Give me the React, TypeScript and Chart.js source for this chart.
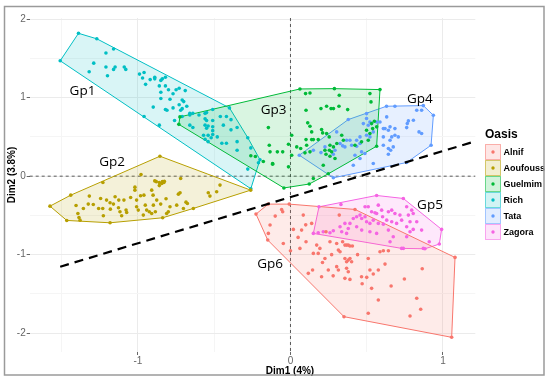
import React, { useEffect, useRef } from "react";
import { Chart, registerables } from "chart.js";
Chart.register(...registerables);

const groupNames = ["Alnif", "Aoufouss", "Guelmim", "Rich", "Tata", "Zagora"];
const groupColors = ["#F8766D", "#B79F00", "#00BA38", "#00BFC4", "#619CFF", "#F564E3"];
const groupLabels = ["Gp6", "Gp2", "Gp3", "Gp1", "Gp4", "Gp5"];
const groupLabelX = [-0.134, -1.17, -0.111, -1.364, 0.849, 0.915];
const groupLabelY = [-1.12, 0.178, 0.84, 1.081, 0.986, -0.363];

const alnifPoints = [
  [-0.226,-0.483],[-0.146,-0.356],[-0.008,-0.356],[0.423,-0.424],[1.079,-1.035],[1.057,-2.053],[0.351,-1.79],[-0.149,-0.814],
  [-0.058,-0.424],[-0.051,-0.454],[-0.134,-0.623],[-0.1,-0.509],[-0.145,-0.729],[-0.047,-0.857],[0.019,-0.678],[0.073,-0.687],[0.084,-0.496],[0.102,-0.835],[0.062,-0.92],[0.15,-0.984],[0.145,-1.196],[0.117,-1.238],[0.172,-0.878],[0.193,-0.92],[0.182,-0.984],[0.226,-1.048],[0.248,-1.196],[0.204,-1.281],[0.259,-0.835],[0.303,-0.857],[0.314,-0.942],[0.325,-0.963],[0.342,-0.835],[0.357,-0.878],[0.368,-0.878],[0.379,-0.878],[0.39,-0.89],[0.406,-0.89],[0.357,-1.048],[0.379,-1.069],[0.39,-1.048],[0.368,-1.09],[0.401,-1.09],[0.303,-1.153],[0.314,-1.196],[0.368,-1.174],[0.379,-1.217],[0.357,-1.302],[0.39,-1.315],[0.466,-1.281],[0.5,-1.289],[0.521,-1.196],[0.51,-1.048],[0.576,-1.196],[0.543,-1.247],[0.532,-1.429],[0.576,-1.578],[0.587,-0.963],[0.609,-0.95],[0.642,-0.95],[0.747,-1.31],[0.864,-1.179],[0.828,-1.556],[0.854,-1.696],[0.784,-1.781],[0.51,-1.747],[0.32,-0.496],[0.139,-0.602],[0.233,-0.708],[0.1,-0.62],[0.05,-0.78],[0.21,-1.1],[0.27,-1.0],[0.44,-1.0],[0.47,-1.37],[0.62,-1.12],[0.66,-1.4],[0.28,-1.27],[0.0,-0.95]
];
const aoufoussPoints = [
  [-1.577,-0.382],[-1.467,-0.564],[-1.183,-0.594],[-0.838,-0.53],[-0.637,-0.411],[-0.261,-0.178],[-0.856,0.254],[-1.23,-0.08],[-1.441,-0.242],
  [-1.319,-0.254],[-1.406,-0.373],[-1.358,-0.411],[-1.326,-0.356],[-1.293,-0.36],[-1.258,-0.411],[-1.394,-0.475],[-1.387,-0.526],[-1.38,-0.56],[-1.231,-0.411],[-1.227,-0.505],[-1.183,-0.339],[-1.161,-0.356],[-1.15,-0.263],[-1.181,-0.42],[-1.126,-0.305],[-1.128,-0.403],[-1.118,-0.454],[-1.107,-0.505],[-1.078,-0.432],[-1.074,-0.462],[-1.092,-0.305],[-1.048,-0.271],[-1.02,-0.178],[-1.009,-0.305],[-1.009,-0.39],[-0.998,-0.432],[-0.983,-0.25],[-0.961,-0.242],[-0.952,-0.369],[-0.943,-0.432],[-0.926,-0.454],[-0.91,-0.178],[-0.901,-0.242],[-0.899,-0.369],[-0.886,-0.454],[-0.877,-0.305],[-0.851,-0.356],[-0.844,-0.093],[-0.827,-0.064],[-0.816,-0.288],[-0.801,-0.454],[-0.79,-0.39],[-0.746,-0.369],[-0.735,-0.229],[-0.724,-0.212],[-0.702,-0.411],[-0.685,-0.331],[-0.676,-0.348],[-0.539,-0.212],[-0.528,-0.254],[-0.484,-0.199],[-0.462,-0.114],[-0.965,-0.496],[-0.91,-0.475],[-0.812,-0.475],[-1.206,-0.305],[-1.245,-0.284],[-0.98,0.02],[-0.89,-0.06],[-0.88,-0.07],[-0.86,-0.08],[-0.84,-0.07],[-0.83,-0.08],[-0.72,-0.03],[-0.86,-0.12],[-1.02,-0.14]
];
const guelmimPoints = [
  [-0.725,0.755],[-0.732,0.66],[0.062,1.111],[0.288,1.115],[0.587,1.103],[0.565,0.382],[0.248,0.03],[0.123,-0.1],[-0.043,-0.15],
  [0.099,1.052],[0.128,1.06],[0.32,1.031],[0.521,1.052],[0.528,0.946],[0.2,0.861],[0.237,0.891],[0.266,0.861],[0.282,0.861],[0.318,0.891],[0.375,0.848],[0.102,0.84],[0.113,0.679],[0.128,0.636],[0.139,0.564],[0.204,0.594],[0.211,0.551],[0.237,0.543],[0.254,0.5],[0.259,0.394],[0.102,0.466],[0.139,0.466],[0.15,0.466],[0.182,0.466],[0.008,0.522],[-0.013,0.407],[0.041,0.373],[0.067,0.352],[0.106,0.394],[0.095,0.297],[0.128,0.31],[0.226,0.331],[0.233,0.28],[0.259,0.254],[0.27,0.31],[0.282,0.373],[0.304,0.416],[0.336,0.522],[0.347,0.458],[0.423,0.394],[0.466,0.437],[0.51,0.458],[0.521,0.543],[0.532,0.67],[0.539,0.606],[0.55,0.7],[0.565,0.628],[0.499,0.585],[0.215,0.14],[0.255,0.331],[0.292,0.225],[0.15,-0.03],[0.008,0.267],[-0.013,0.119],[-0.134,0.31],[-0.117,0.161],[-0.051,0.31],[-0.086,0.31],[-0.145,0.619],[-0.139,0.394],[-0.117,0.153],[-0.178,0.187],[-0.26,0.26],[-0.23,0.25]
];
const richPoints = [
  [-1.21,1.57],[-1.29,1.44],[-1.32,1.33],[-1.21,1.39],[-1.15,1.39],[-1.16,1.36],[-1.2,1.28],[-1.09,1.39],[-1.08,1.36],[-0.99,1.3],[-0.96,1.32],[-0.97,1.25],[-0.95,1.17],[-0.92,1.23],[-0.89,1.26],[-0.89,1.24],[-0.85,1.22],[-0.84,1.24],[-0.82,1.26],[-0.86,1.15],[-0.82,1.15],[-0.8,1.1],[-0.85,1.07],[-0.85,0.99],[-0.79,0.98],[-0.77,1.05],[-0.75,1.1],[-0.73,1.12],[-0.69,1.09],[-0.9,0.88],[-0.82,0.85],[-0.81,0.84],[-0.77,0.87],[-0.73,0.91],[-0.71,0.86],[-0.71,0.97],[-0.7,0.95],[-0.68,0.89],[-0.72,0.84],[-0.66,0.78],[-0.66,0.8],[-0.64,0.8],[-0.6,0.78],[-0.56,0.8],[-0.55,0.81],[-0.51,0.85],[-0.56,0.73],[-0.55,0.71],[-0.51,0.71],[-0.46,0.76],[-0.42,0.76],[-0.44,0.65],[-0.39,0.72],[-0.35,0.62],[-0.56,0.65],[-0.54,0.64],[-0.51,0.63],[-0.55,0.61],[-0.51,0.58],[-0.39,0.59],[-0.57,0.52],[-0.54,0.52],[-0.51,0.53],[-0.56,0.47],[-0.52,0.49],[-0.48,0.5],[-0.54,0.44],[-0.45,0.42],[-0.42,0.42],[-0.35,0.44],[-0.35,0.33],[-0.28,0.49],[-0.26,0.36],[-0.21,0.17],[-0.28,0.09],[-0.71,0.76],[-0.66,0.65],[-0.64,0.62],[-0.76,0.71],[-0.86,0.65],[-0.96,0.76],[-0.4,0.87],[-1.16,1.62],[-1.27,1.75],[-1.39,1.82],[-1.51,1.47],[-0.2,0.21],[-0.26,-0.16]
];
const tataPoints = [
  [0.058,0.267],[0.379,0.721],[0.63,0.891],[0.871,0.899],[0.937,0.776],[0.922,0.394],[0.762,0.174],[0.281,-0.021],
  [0.685,0.891],[0.828,0.84],[0.86,0.84],[0.499,0.797],[0.499,0.734],[0.521,0.691],[0.478,0.67],[0.51,0.649],[0.565,0.691],[0.587,0.691],[0.631,0.755],[0.653,0.628],[0.62,0.606],[0.609,0.606],[0.642,0.585],[0.685,0.606],[0.685,0.522],[0.664,0.5],[0.653,0.458],[0.707,0.5],[0.762,0.619],[0.766,0.67],[0.773,0.704],[0.806,0.712],[0.843,0.564],[0.86,0.543],[0.674,0.373],[0.642,0.352],[0.657,0.331],[0.642,0.28],[0.609,0.394],[0.456,0.5],[0.456,0.416],[0.466,0.31],[0.488,0.288],[0.401,0.394],[0.39,0.458],[0.368,0.458],[0.357,0.373],[0.325,0.416],[0.342,0.386],[0.434,0.458],[0.434,0.382],[0.456,0.225],[0.412,0.14],[0.543,0.161],[0.423,0.267],[0.499,0.522],[0.521,0.5],[0.609,0.5],[0.543,0.564],[0.292,0.331],[0.281,0.28],[0.303,0.564],[0.226,0.373],[0.2,0.3],[0.15,0.33]
];
const zagoraPoints = [
  [0.187,-0.39],[0.15,-0.729],[0.565,-0.246],[0.74,-0.284],[0.991,-0.678],[0.976,-0.865],[0.882,-0.925],[0.74,-0.92],
  [0.331,-0.36],[0.489,-0.39],[0.51,-0.39],[0.576,-0.369],[0.532,-0.454],[0.554,-0.466],[0.598,-0.433],[0.642,-0.454],[0.664,-0.433],[0.685,-0.475],[0.718,-0.496],[0.762,-0.39],[0.795,-0.433],[0.805,-0.475],[0.773,-0.496],[0.784,-0.581],[0.828,-0.581],[0.86,-0.687],[0.805,-0.678],[0.762,-0.644],[0.729,-0.56],[0.696,-0.602],[0.664,-0.581],[0.631,-0.56],[0.609,-0.611],[0.576,-0.602],[0.543,-0.56],[0.521,-0.602],[0.489,-0.517],[0.456,-0.496],[0.434,-0.517],[0.412,-0.539],[0.39,-0.602],[0.379,-0.666],[0.357,-0.602],[0.325,-0.644],[0.336,-0.708],[0.368,-0.729],[0.434,-0.644],[0.467,-0.687],[0.521,-0.708],[0.565,-0.729],[0.642,-0.687],[0.674,-0.772],[0.653,-0.835],[0.762,-0.772],[0.784,-0.708],[0.91,-0.835],[0.871,-0.92],[0.729,-0.92],[0.182,-0.721],[0.215,-0.708],[0.259,-0.721],[0.281,-0.695],[0.467,-0.539],[0.499,-0.581],[0.604,-0.517],[0.565,-0.475]
];
const groupPoints = [alnifPoints, aoufoussPoints, guelmimPoints, richPoints, tataPoints, zagoraPoints];

const dividerX = [-1.51, 1.199];
const dividerY = [-1.154, 0.437];
const xTicks = [-1.5, -1, -0.5, 0, 0.5, 1];
const yTicks = [-2, -1.5, -1, -0.5, 0, 0.5, 1, 1.5, 2];
const xRange = [-1.71, 1.212];
const yRange = [-2.24, 2.015];

const FONT = '"Liberation Sans", Arial, sans-serif';

function convexHull(pts: number[][]) {
  const p = pts.map(([x, y]) => ({ x, y })).sort((a, b) => a.x - b.x || a.y - b.y);
  const cross = (o: any, a: any, b: any) => (a.x - o.x) * (b.y - o.y) - (a.y - o.y) * (b.x - o.x);
  const lower: any[] = [];
  for (const q of p) {
    while (lower.length >= 2 && cross(lower[lower.length - 2], lower[lower.length - 1], q) <= 0) lower.pop();
    lower.push(q);
  }
  const upper: any[] = [];
  for (let i = p.length - 1; i >= 0; i--) {
    const q = p[i];
    while (upper.length >= 2 && cross(upper[upper.length - 2], upper[upper.length - 1], q) <= 0) upper.pop();
    upper.push(q);
  }
  upper.pop();
  lower.pop();
  const h = lower.concat(upper);
  h.push(h[0]);
  return h;
}

function alpha(hex: string, a: number) {
  const r = parseInt(hex.slice(1, 3), 16), g = parseInt(hex.slice(3, 5), 16), b = parseInt(hex.slice(5, 7), 16);
  return `rgba(${r},${g},${b},${a})`;
}

const decorPlugin = {
  id: "decor",
  beforeDatasetsDraw(chart: any) {
    const { ctx, chartArea, scales } = chart;
    const x0 = scales.x.getPixelForValue(0);
    const y0 = scales.y.getPixelForValue(0);
    ctx.save();
    ctx.strokeStyle = "#333";
    ctx.lineWidth = 0.8;
    ctx.setLineDash([3, 3]);
    ctx.beginPath();
    ctx.moveTo(x0, chartArea.top);
    ctx.lineTo(x0, chartArea.bottom);
    ctx.moveTo(chartArea.left, y0);
    ctx.lineTo(chartArea.right, y0);
    ctx.stroke();
    ctx.restore();
  },
  afterDatasetsDraw(chart: any) {
    const { ctx, scales } = chart;
    ctx.save();
    ctx.fillStyle = "#000";
    ctx.font = '500 13.5px "Open Sans", sans-serif';
    ctx.textAlign = "center";
    ctx.textBaseline = "middle";
    groupLabels.forEach((t, i) => {
      ctx.fillText(t, scales.x.getPixelForValue(groupLabelX[i]), scales.y.getPixelForValue(groupLabelY[i]));
    });
    ctx.restore();
  },
  afterDraw(chart: any) {
    const { ctx } = chart;
    ctx.save();
    ctx.fillStyle = "#000";
    ctx.font = `bold 10px ${FONT}`;
    ctx.textAlign = "center";
    ctx.textBaseline = "middle";
    ctx.fillText("Dim1 (4%)", 290, 371);
    ctx.save();
    ctx.translate(12, 175);
    ctx.rotate(-Math.PI / 2);
    ctx.fillText("Dim2 (3.8%)", 0, 0);
    ctx.restore();
    ctx.textAlign = "left";
    ctx.font = `bold 12px ${FONT}`;
    ctx.fillText("Oasis", 485, 134.5);
    groupNames.forEach((name, i) => {
      const y0 = 144 + i * 16;
      ctx.fillStyle = alpha(groupColors[i], 0.18);
      ctx.fillRect(485.5, y0 + 0.5, 15, 15);
      ctx.strokeStyle = alpha(groupColors[i], 0.55);
      ctx.lineWidth = 1;
      ctx.strokeRect(485.5, y0 + 0.5, 15, 15);
      ctx.fillStyle = groupColors[i];
      ctx.beginPath();
      ctx.arc(493, y0 + 8, 1.7, 0, Math.PI * 2);
      ctx.fill();
      ctx.fillStyle = "#000";
      ctx.font = `bold 9px ${FONT}`;
      ctx.fillText(name, 503.5, y0 + 8.5);
    });
    ctx.strokeStyle = "#9a9a9a";
    ctx.lineWidth = 1.5;
    ctx.strokeRect(4.5, 6.5, 539.5, 368.5);
    ctx.restore();
  },
};

export default function App() {
  const ref = useRef<HTMLCanvasElement | null>(null);
  useEffect(() => {
    if (!ref.current) return;
    const hullSets = groupPoints.map((pts, i) => ({
      data: convexHull(pts),
      showLine: true,
      fill: "shape",
      borderColor: groupColors[i],
      borderWidth: 1,
      backgroundColor: alpha(groupColors[i], 0.15),
      pointRadius: 0,
      tension: 0,
      order: 2,
    }));
    const pointSets = groupPoints.map((pts, i) => ({
      data: pts.map(([x, y]) => ({ x, y })),
      showLine: false,
      backgroundColor: groupColors[i],
      borderWidth: 0,
      pointRadius: 1.8,
      order: 1,
    }));
    const divider = {
      data: dividerX.map((x, i) => ({ x, y: dividerY[i] })),
      showLine: true,
      borderColor: "#000",
      borderWidth: 2.2,
      borderDash: [9, 6],
      pointRadius: 0,
      fill: false,
      order: 0,
    };
    const gridColor = (c: any) =>
      c.tick && Number.isInteger(c.tick.value) ? "#ebebeb" : "#f5f5f5";
    const tickColor = (c: any) =>
      c.tick && Number.isInteger(c.tick.value) ? "#666" : "rgba(0,0,0,0)";
    const chart = new Chart(ref.current, {
      type: "scatter",
      data: { datasets: [divider, ...pointSets, ...hullSets] as any },
      plugins: [decorPlugin],
      options: {
        animation: false,
        responsive: true,
        maintainAspectRatio: false,
        layout: { padding: { left: 0, top: 18, right: 74.7, bottom: 0 } },
        plugins: { legend: { display: false }, tooltip: { enabled: false } },
        scales: {
          x: {
            type: "linear",
            min: xRange[0],
            max: xRange[1],
            afterBuildTicks: (s: any) => { s.ticks = xTicks.map((v) => ({ value: v })); },
            afterFit: (s: any) => { s.height = 29; },
            border: { display: false },
            grid: { color: gridColor, lineWidth: 1, tickLength: 3, tickColor, tickWidth: 1 },
            ticks: {
              padding: 0,
              color: "#666",
              font: { family: FONT, size: 10 },
              callback: (v: any) => (Number.isInteger(v) ? String(v) : ""),
              maxRotation: 0,
            },
          },
          y: {
            type: "linear",
            min: yRange[0],
            max: yRange[1],
            afterBuildTicks: (s: any) => { s.ticks = yTicks.map((v) => ({ value: v })); },
            afterFit: (s: any) => { s.width = 29.7; },
            border: { display: false },
            grid: { color: gridColor, lineWidth: 1, tickLength: 3, tickColor, tickWidth: 1 },
            ticks: {
              padding: 1,
              color: "#666",
              font: { family: FONT, size: 10 },
              callback: (v: any) => (Number.isInteger(v) ? String(v) : ""),
            },
          },
        },
      } as any,
    });
    return () => chart.destroy();
  }, []);
  return (
    <div style={{ position: "absolute", left: 0, top: 0, width: 550, height: 381, background: "#fff" }}>
      <canvas ref={ref} />
    </div>
  );
}
